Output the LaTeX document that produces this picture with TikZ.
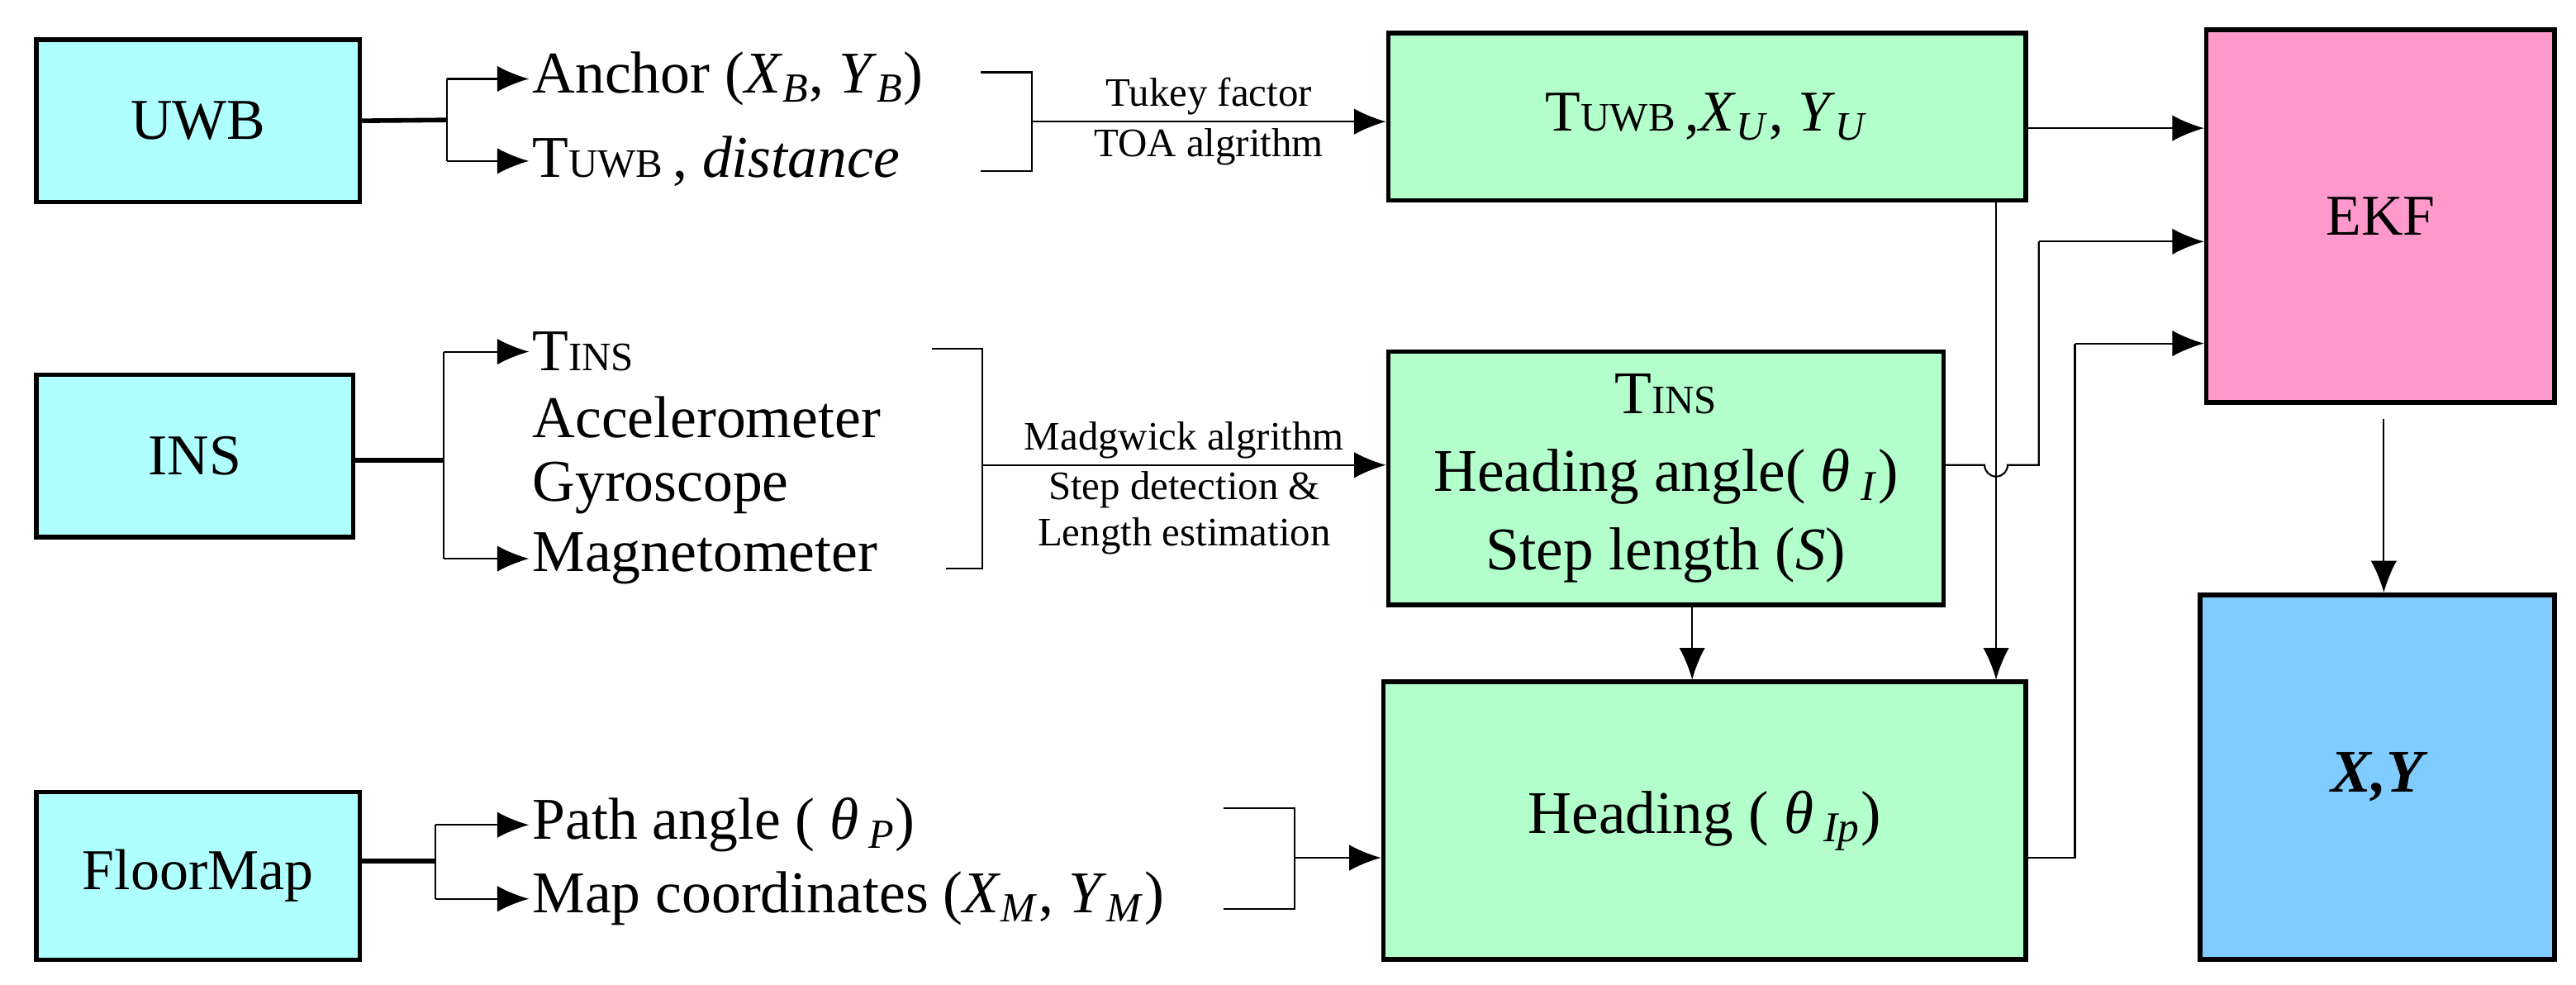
\documentclass[tikz,border=0pt]{standalone}
\usepackage{fontspec}
\setmainfont{Liberation Serif}
\usetikzlibrary{arrows.meta,positioning}
\definecolor{srccyan}{HTML}{AFFFFF}
\definecolor{procgreen}{HTML}{B3FFCC}
\definecolor{ekfpink}{HTML}{FF99CC}
\definecolor{outblue}{HTML}{80CCFF}
\newcommand{\sm}[1]{{\fontsize{14}{14}\selectfont #1}}
\newcommand{\ib}[1]{\textsubscript{\textit{#1}}}
\tikzset{
  blk/.style={draw, line width=1.6pt, inner sep=0pt, font=\fontsize{20}{23}\selectfont},
  item/.style={anchor=west, inner sep=1pt, font=\fontsize{20.5}{23}\selectfont},
  lbl/.style={font=\fontsize{14}{16}\selectfont, inner sep=2pt},
  arr/.style={-{Latex[length=11pt,width=9pt]}},
  ln/.style={line width=0.6pt},
}
\begin{document}
\begin{tikzpicture}[x=0.02cm,y=-0.02cm]
  \useasboundingbox (0,0) rectangle (1568,599);

  % source boxes
  \node[blk, fill=srccyan, minimum width=3.94cm, minimum height=1.98cm] (uwb) at (120.5,73.5) {UWB};
  \node[blk, fill=srccyan, minimum width=3.86cm, minimum height=1.98cm] (ins) at (118.5,277.5) {INS};
  \node[blk, fill=srccyan, minimum width=3.94cm, minimum height=2.04cm] (map) at (120.5,533) {FloorMap};

  % processing boxes
  \node[blk, fill=procgreen, minimum width=7.76cm, minimum height=2.04cm] (tuwb) at (1039,71) {T\sm{UWB}\,,\textit{X}\ib{U}, \textit{Y}\ib{U}};
  \node[blk, fill=procgreen, minimum width=6.76cm, minimum height=3.08cm, align=center, font=\fontsize{21}{24}\selectfont] (tins) at (1014,291)
    {T\sm{INS}\\[3pt]Heading angle( \textit{θ}\,\ib{I})\\[3pt]Step length (\textit{S})};
  \node[blk, fill=procgreen, minimum width=7.82cm, minimum height=3.38cm, font=\fontsize{21}{24}\selectfont] (head) at (1037.5,499.5) {Heading ( \textit{θ}\,\ib{Ip})};
  \node[blk, fill=ekfpink, minimum width=4.24cm, minimum height=4.54cm] (ekf) at (1449,131.5) {EKF};
  \node[blk, fill=outblue, minimum width=4.32cm, minimum height=4.44cm, font=\fontsize{21}{24}\selectfont\bfseries\itshape] (xy) at (1447,473) {X,Y};

  % text items
  \node[item] (anc) at (322,48) {Anchor (\textit{X}\ib{B}, \textit{Y}\ib{B})};
  \node[item] (dist) at (322,98) {T\sm{UWB}\,, \textit{distance}};
  \node[item] (tin) at (322,214) {T\sm{INS}};
  \node[item] (acc) at (322,254) {Accelerometer};
  \node[item] (gyr) at (322,297) {Gyroscope};
  \node[item] (mag) at (322,340) {Magnetometer};
  \node[item] (pang) at (322,502) {Path angle ( \textit{θ}\,\ib{P})};
  \node[item] (mapc) at (322,547) {Map coordinates (\textit{X}\ib{M}, \textit{Y}\ib{M})};

  % helper coordinates
  \coordinate (ub) at (272,73);
  \coordinate (ib) at (270,280);
  \coordinate (mb) at (265,524);
  \coordinate (bu1) at (628,44);  \coordinate (bu2) at (628,104); \coordinate (bu) at (628,74);
  \coordinate (bi1) at (598,212); \coordinate (bi2) at (598,346); \coordinate (bi) at (598,283);
  \coordinate (bm1) at (788,492); \coordinate (bm2) at (788,553); \coordinate (bm) at (788,522);

  % UWB branch
  \draw[line width=1.6pt] (uwb.east) -- (ub);
  \draw[ln] (272,48) -- (272,98);
  \draw[ln, arr] (272,48) -- (anc.west);
  \draw[ln, arr] (272,98) -- (dist.west);
  \draw[ln] (597,44) -- (bu1) -- (bu2) -- (597,104);
  \draw[ln, arr] (bu) -- (tuwb.west|-bu)
    node[lbl, midway, above] {Tukey factor} node[lbl, midway, below] {TOA algrithm};

  % INS branch
  \draw[line width=1.6pt] (ins.east|-ib) -- (ib);
  \draw[ln] (270,214) -- (270,340);
  \draw[ln, arr] (270,214) -- (tin.west);
  \draw[ln, arr] (270,340) -- (mag.west);
  \draw[ln] (567,212) -- (bi1) -- (bi2) -- (576,346);
  \draw[ln, arr] (bi) -- (tins.west|-bi)
    node[lbl, midway, above] {Madgwick algrithm}
    node[lbl, midway, below, align=center] {Step detection \&\\Length estimation};

  % FloorMap branch
  \draw[line width=1.6pt] (map.east|-mb) -- (mb);
  \draw[ln] (265,502) -- (265,547);
  \draw[ln, arr] (265,502) -- (pang.west);
  \draw[ln, arr] (265,547) -- (mapc.west);
  \draw[ln] (745,492) -- (bm1) -- (bm2) -- (745,553);
  \draw[ln, arr] (bm) -- (head.west|-bm);

  % to EKF and heading
  \draw[ln, arr] (tuwb.east|-1233,78) -- (ekf.west|-1343,78);
  \draw[ln, arr] (1215,122) -- (head.north-|1215,0);
  \draw[ln] (tins.east|-0,283) -- (1208,283) arc[start angle=180, end angle=0, radius=7] -- (1241,283) -- (1241,147);
  \draw[ln, arr] (1241,147) -- (ekf.west|-0,147);
  \draw[ln, arr] (tins.south-|1030,0) -- (head.north-|1030,0);
  \draw[ln] (head.east|-0,522) -- (1263,522) -- (1263,209);
  \draw[ln, arr] (1263,209) -- (ekf.west|-0,209);
  \draw[ln, arr] (1451,255) -- (xy.north-|1451,0);
\end{tikzpicture}
\end{document}
